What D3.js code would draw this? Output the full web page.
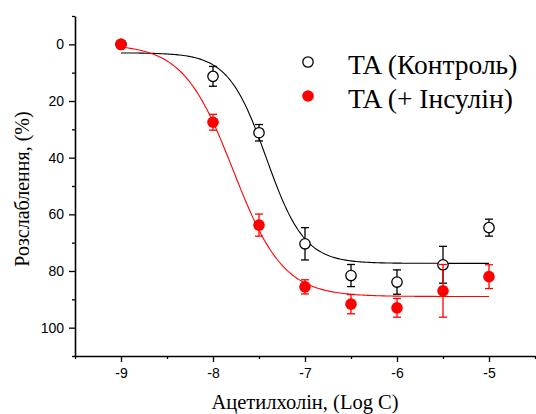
<!DOCTYPE html>
<html><head><meta charset="utf-8">
<script src="https://cdn.jsdelivr.net/npm/d3@7/dist/d3.min.js"></script>
<style>body{margin:0;background:#fff}svg{display:block}
.serif{font-family:'Liberation Serif','Times New Roman',Times,serif}
.sans{font-family:'Liberation Sans',Arial,Helvetica,sans-serif}
</style>
</head><body><svg id="c" width="536" height="414"></svg>
<script>
// ---- data ----
const logConc      = [-9, -8, -7.5, -7, -6.5, -6, -5.5, -5];
const controlMean  = [0, 11.3, 31.2, 70.4, 81.6, 83.9, 77.8, 64.7];
const controlErr   = [0, 3.5, 2.9, 5.7, 3.9, 4.3, 6.5, 3.0];
const insulinMean  = [0, 27.5, 63.8, 85.6, 91.7, 93.0, 87.0, 82.0];
const insulinErr   = [0, 2.8, 3.9, 2.5, 3.4, 3.3, 9.3, 4.2];
// fitted dose-response (Hill) parameters: bottom, top, logEC50, slope
const controlFit   = [3, 77.3, -7.42, 2.1];
const insulinFit   = [0, 89, -7.78, 1.6];
const fitRange     = [-9, -5];
const seriesNames  = ["TA (Контроль)", "TA (+ Інсулін)"];
const xTicks       = [-9, -8, -7, -6, -5];
const yTicks       = [0, 20, 40, 60, 80, 100];
const xLabel       = "Ацетилхолін, (Log C)";
const yLabel       = "Розслаблення, (%)";

const svg = d3.select("#c");
const x = d3.scaleLinear().domain([-9.5, -4.5]).range([75, 535]);
const y = d3.scaleLinear().domain([-10, 110]).range([16, 356]);

const hill = (p, v) => p[0] + (p[1] - p[0]) / (1 + Math.pow(10, (p[2] - v) * p[3]));
const fmt = d => String(d);

// axes
const xMinor = d3.range(-9.5, -4.49, 0.5).filter(v => !xTicks.includes(v));
const yMinor = d3.range(-10, 111, 10).filter(v => !yTicks.includes(v));
const gx = svg.append("g").attr("transform", "translate(0,356)");
gx.call(d3.axisBottom(x).tickValues(xTicks).tickSize(6).tickPadding(6).tickSizeOuter(0).tickFormat(fmt));
const gxm = svg.append("g").attr("transform", "translate(0,356)");
gxm.call(d3.axisBottom(x).tickValues(xMinor).tickSize(3).tickSizeOuter(0).tickFormat(""));
gxm.select(".domain").remove();
const gy = svg.append("g").attr("transform", "translate(75,0)");
gy.call(d3.axisLeft(y).tickValues(yTicks).tickSize(6).tickPadding(5).tickSizeOuter(0).tickFormat(fmt));
const gym = svg.append("g").attr("transform", "translate(75,0)");
gym.call(d3.axisLeft(y).tickValues(yMinor).tickSize(3).tickSizeOuter(0).tickFormat(""));
gym.select(".domain").remove();
svg.selectAll("g").attr("font-family", null);
svg.selectAll(".domain").attr("stroke", "#000").attr("stroke-width", 1.6);
svg.selectAll(".tick line").attr("stroke", "#000").attr("stroke-width", 1.3);
svg.selectAll(".tick text").attr("class", "sans").attr("font-size", 14).attr("fill", "#000");

// fit curves
const line = d3.line().x(d => x(d[0])).y(d => y(d[1]));
const pts = d3.range(fitRange[0], fitRange[1] + 0.001, 0.02);
svg.append("path").datum(pts.map(v => [v, hill(controlFit, v)])).attr("d", line)
  .attr("fill", "none").attr("stroke", "#000").attr("stroke-width", 1.1);
svg.append("path").datum(pts.map(v => [v, hill(insulinFit, v)])).attr("d", line)
  .attr("fill", "none").attr("stroke", "#ff0000").attr("stroke-width", 1.1);

function drawSeries(means, errs, color, filled) {
  const g = svg.append("g");
  const data = logConc.map((c, i) => ({c, m: means[i], e: errs[i]}));
  data.filter(d => d.e > 0).forEach(d => {
    const eg = g.append("g").attr("stroke", color).attr("stroke-width", 1.3);
    eg.append("line").attr("x1", x(d.c)).attr("x2", x(d.c)).attr("y1", y(d.m - d.e)).attr("y2", y(d.m + d.e));
    eg.append("line").attr("x1", x(d.c) - 4).attr("x2", x(d.c) + 4).attr("y1", y(d.m - d.e)).attr("y2", y(d.m - d.e));
    eg.append("line").attr("x1", x(d.c) - 4).attr("x2", x(d.c) + 4).attr("y1", y(d.m + d.e)).attr("y2", y(d.m + d.e));
  });
  g.selectAll("circle").data(data).join("circle")
    .attr("cx", d => x(d.c)).attr("cy", d => y(d.m))
    .attr("r", filled ? 5.8 : 5.2)
    .attr("fill", filled ? color : "#fff")
    .attr("stroke", filled ? "none" : color).attr("stroke-width", 1.3);
}
drawSeries(controlMean, controlErr, "#000", false);
drawSeries(insulinMean, insulinErr, "#ff0000", true);

// legend
const lg = svg.append("g");
[[0, "#000", false], [1, "#ff0000", true]].forEach(([i, col, f]) => {
  lg.append("circle").attr("cx", 308).attr("cy", 62 + i * 34).attr("r", f ? 5.8 : 5.2)
    .attr("fill", f ? col : "#fff").attr("stroke", f ? "none" : col).attr("stroke-width", 1.3);
  lg.append("text").attr("class", "serif").attr("x", 348).attr("y", 73.5 + i * 34).text(seriesNames[i])
    .attr("font-size", 27.5).attr("fill", "#000");
});

// axis titles
svg.append("text").attr("class", "serif").attr("x", 305).attr("y", 409).attr("text-anchor", "middle").text(xLabel)
  .attr("font-size", 20.5);
svg.append("text").attr("class", "serif").attr("transform", "translate(28.5,189) rotate(-90)").attr("text-anchor", "middle").text(yLabel)
  .attr("font-size", 20);
</script></body></html>
